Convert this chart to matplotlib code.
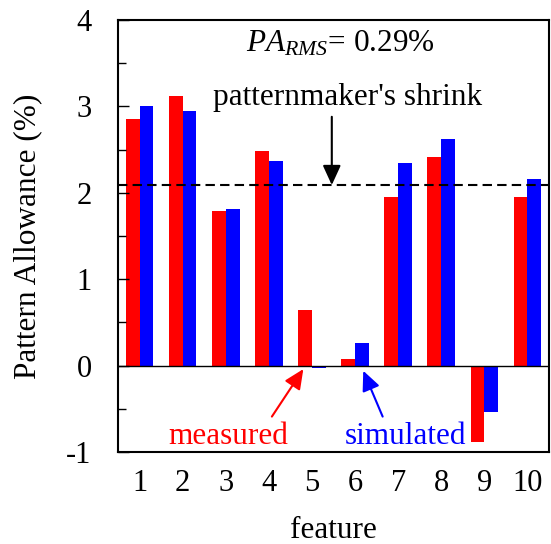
import numpy as np
import matplotlib
matplotlib.use("Agg")
import matplotlib.pyplot as plt

plt.rcParams['font.family'] = ['Liberation Serif', 'DejaVu Serif']
plt.rcParams['mathtext.fontset'] = 'custom'
plt.rcParams['mathtext.rm'] = 'Liberation Serif'
plt.rcParams['mathtext.it'] = 'Liberation Serif:italic'
plt.rcParams['axes.unicode_minus'] = False

features = [1, 2, 3, 4, 5, 6, 7, 8, 9, 10]
measured = [2.85, 3.12, 1.79, 2.48, 0.64, 0.08, 1.95, 2.42, -0.88, 1.95]
simulated = [3.01, 2.95, 1.81, 2.37, -0.03, 0.26, 2.34, 2.62, -0.54, 2.16]
shrink = 2.09
pa_rms = 0.29

fig = plt.figure(figsize=(5.51, 5.44), dpi=100)
ax = fig.add_axes([0.2142, 0.1691, 0.7822, 0.7941])

x = np.array(features)
w = 0.32
ax.bar(x - w / 2, measured, w, color='#ff0000', linewidth=0)
ax.bar(x + w / 2, simulated, w, color='#0000ff', linewidth=0)

ax.axhline(0, color='black', lw=1)
ax.axhline(shrink, color='black', lw=1.5, ls=(0, (4.5, 2.5)))

ax.set_xlim(0.5, 10.5)
ax.set_ylim(-1, 4)
ax.set_xticks(features)
ax.set_yticks([-1, 0, 1, 2, 3, 4])
ax.set_yticks(np.arange(-0.5, 4, 1), minor=True)
ax.tick_params(axis='x', length=0, pad=12, labelsize=22)
ax.tick_params(axis='y', which='major', direction='in', length=8, width=1, pad=19, labelsize=22)
ax.tick_params(axis='y', which='minor', direction='in', length=6, width=1)
for s in ax.spines.values():
    s.set_linewidth(1.5)

ax.set_xlabel('feature', fontsize=22.5, labelpad=13)
ax.set_ylabel('Pattern Allowance (%)', fontsize=22.5, labelpad=17)

ax.text(0.517, 3.73, r'$PA_{RMS}$= %.2f%%' % pa_rms, transform=ax.get_yaxis_transform(),
        ha='center', va='center', fontsize=22.5)
ax.text(0.532, 3.10, "patternmaker's shrink", transform=ax.get_yaxis_transform(),
        ha='center', va='center', fontsize=22.5)

head = '-|>,head_length=1.2,head_width=0.55'
ax.annotate('', xy=(5.46, shrink), xytext=(5.46, 2.88),
            arrowprops=dict(arrowstyle=head, color='black', lw=1.5, shrinkA=0, shrinkB=0))
ax.annotate('', xy=(4.80, -0.04), xytext=(4.07, -0.59),
            arrowprops=dict(arrowstyle=head, color='#ff0000', lw=1.5, shrinkA=0, shrinkB=0))
ax.annotate('', xy=(6.19, -0.06), xytext=(6.64, -0.59),
            arrowprops=dict(arrowstyle=head, color='#0000ff', lw=1.5, shrinkA=0, shrinkB=0))
ax.text(3.06, -0.815, 'measured', color='#ff0000', ha='center', va='center', fontsize=22.5)
ax.text(7.16, -0.815, 'simulated', color='#0000ff', ha='center', va='center', fontsize=22.5)

fig.savefig('out.png', dpi=100)
